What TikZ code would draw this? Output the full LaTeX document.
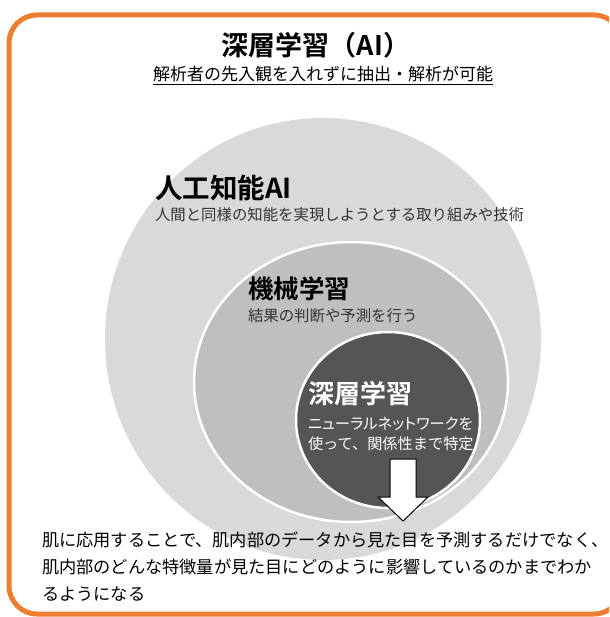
\documentclass[tikz,border=0pt]{standalone}
\usepackage{fontspec}
\usetikzlibrary{shapes.geometric}
\setmainfont{Noto Sans CJK JP}[BoldFont={Noto Sans CJK JP Bold}]
\newfontfamily\jpp{Noto Sans CJK JP}[RawFeature=+palt]
\definecolor{frameorange}{HTML}{ED7D31}
\definecolor{ailight}{HTML}{D9D9D9}
\definecolor{mlmid}{HTML}{BFBFBF}
\definecolor{dldark}{HTML}{555555}
\definecolor{desc}{HTML}{333333}
\begin{document}
\begin{tikzpicture}[x=1pt,y=-1pt,
  txt/.style={inner sep=0pt, outer sep=0pt, anchor=base west},
  ring/.style={ellipse, inner sep=0pt, outer sep=0pt},
  headbig/.style={font=\bfseries\fontsize{27}{30}\selectfont, text=black},
  descr/.style={font=\fontsize{15.4}{18}\selectfont, text=desc},
  bottomtxt/.style={txt, font=\fontsize{17.2}{20}\selectfont, text=black}
]
\useasboundingbox (0,0) rectangle (609,617);
\clip (0,0) rectangle (609,617);
\fill[white] (0,0) rectangle (609,617);
\draw[frameorange, line width=5pt, rounded corners=28pt] (9,15) rectangle (622,614);

% nested circles
\node[ring, fill=ailight, minimum width=436pt, minimum height=442pt] (ai) at (323,339) {};
\node[ring, fill=mlmid, draw=white, line width=2.5pt, minimum width=314pt, minimum height=280pt] (ml) at (351,382) {};
\node[ring, fill=dldark, draw=white, line width=2.5pt, minimum width=184pt, minimum height=176pt] (dl) at (388,420) {};

% title
\node[anchor=base, inner sep=0pt, headbig] (title) at (316,56) {深層学習（AI）};
\node[anchor=base, inner sep=0pt, font=\fontsize{17}{20}\selectfont, text=black] (sub) at (323,81) {\underline{解析者の先入観を入れずに抽出・解析が可能}};

% AI
\node[txt, font=\bfseries\fontsize{27.5}{30}\selectfont] (aih) at (155,199) {人工知能AI};
\node[txt, descr] (aid) at (155,221) {人間と同様の知能を実現しようとする取り組みや技術};

% machine learning
\node[txt, font=\bfseries\fontsize{25.5}{30}\selectfont] (mlh) at (248,298) {機械学習};
\node[txt, descr] (mld) at (248,321) {結果の判断や予測を行う};

% deep learning
\node[txt, font=\bfseries\fontsize{26}{30}\selectfont, text=white] (dlh) at (308,403) {深層学習};
\node[txt, font=\jpp\fontsize{15.3}{18}\selectfont, text=white] (dl1) at (308,429) {ニューラルネットワークを};
\node[txt, font=\fontsize{15.2}{18}\selectfont, text=white] (dl2) at (308,449) {使って、関係性まで特定};

% arrow
\draw[fill=white, draw=black, line width=1pt, line join=miter]
  (390,459) -- (416,459) -- (416,497) -- (428,497) -- (403,521) -- (378,497) -- (390,497) -- cycle;

% bottom text
\node[bottomtxt] (b1) at (42,546) {肌に応用することで、肌内部のデータから見た目を予測するだけでなく、};
\node[bottomtxt] (b2) at (42,573) {肌内部のどんな特徴量が見た目にどのように影響しているのかまでわか};
\node[bottomtxt] (b3) at (42,600) {るようになる};
\end{tikzpicture}
\end{document}
